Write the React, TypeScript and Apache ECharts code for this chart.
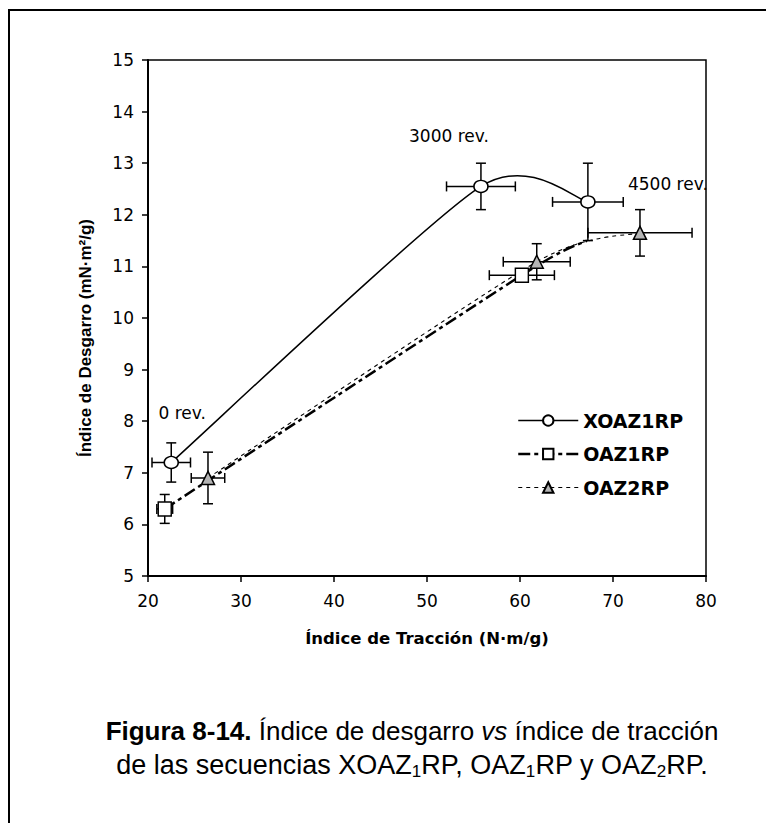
import React, { useEffect, useRef } from "react";
import * as echarts from "echarts";

// ---- data ----
const xoazX = [22.5, 55.8, 67.3];
const xoazY = [7.2, 12.55, 12.25];
const xoazXErr = [2.07, 3.7, 3.8];
const xoazYErr = [0.38, 0.45, 0.75];
const revLabels = ["0 rev.", "3000 rev.", "4500 rev."];

const oaz1X = [21.8, 60.2, 67.2];
const oaz1Y = [6.3, 10.83, 11.5];
const oaz1XErr = [0.85, 3.5, 0];
const oaz1YErr = [0.28, 0.12, 0];
const oaz1Visible = [true, true, false];

const oaz2X = [26.45, 61.8, 72.9];
const oaz2Y = [6.9, 11.09, 11.65];
const oaz2XErr = [1.8, 3.6, 5.6];
const oaz2YErr = [0.5, 0.35, 0.45];

const seriesNames = ["XOAZ1RP", "OAZ1RP", "OAZ2RP"];
const xTitle = "Índice de Tracción (N·m/g)";
const yTitle = "Índice de Desgarro (mN·m²/g)";

const FONT = "Liberation Sans";
const WIDE = "DejaVu Sans";
const TENSION = 1 / 8.5;

const styles = [
  { color: "#000", width: 1.5, type: "solid" as any, dash: null as any },
  { color: "#000", width: 2.5, type: [12, 4, 4, 4], dash: [12, 4, 4, 4] },
  { color: "#000", width: 1.1, type: [4, 4], dash: [4, 4] },
];

function curveSeries(xs: number[], ys: number[], st: any) {
  return {
    type: "custom",
    z: 2,
    silent: true,
    data: xs.map((x, i) => [x, ys[i]]),
    encode: { x: 0, y: 1 },
    renderItem: (params: any, api: any) => {
      const i = params.dataIndex;
      const n = xs.length;
      if (i >= n - 1) return null;
      const P = (k: number) => {
        const kk = Math.max(0, Math.min(n - 1, k));
        return api.coord([xs[kk], ys[kk]]);
      };
      const p0 = P(i - 1);
      const p1 = P(i);
      const p2 = P(i + 1);
      const p3 = P(i + 2);
      const c1x = p1[0] + (p2[0] - p0[0]) * TENSION;
      const c1y = p1[1] + (p2[1] - p0[1]) * TENSION;
      const c2x = p2[0] - (p3[0] - p1[0]) * TENSION;
      const c2y = p2[1] - (p3[1] - p1[1]) * TENSION;
      return {
        type: "bezierCurve",
        shape: { x1: p1[0], y1: p1[1], x2: p2[0], y2: p2[1], cpx1: c1x, cpy1: c1y, cpx2: c2x, cpy2: c2y },
        style: { stroke: st.color, lineWidth: st.width, lineDash: st.dash, fill: null },
      };
    },
  };
}

export default function App() {
  const ref = useRef<HTMLDivElement>(null);
  useEffect(() => {
    if (!ref.current) return;
    const chart = echarts.init(ref.current, null, { renderer: "svg" });

    const errData: number[][] = [];
    const pushErr = (xs: number[], ys: number[], ex: number[], ey: number[]) => {
      xs.forEach((x, i) => {
        if (ex[i] > 0 || ey[i] > 0) errData.push([x, ys[i], ex[i], ey[i]]);
      });
    };
    pushErr(xoazX, xoazY, xoazXErr, xoazYErr);
    pushErr(oaz1X, oaz1Y, oaz1XErr, oaz1YErr);
    pushErr(oaz2X, oaz2Y, oaz2XErr, oaz2YErr);

    const labelOffsets = [
      [11, -49],
      [-32, -50],
      [80, -18],
    ];

    const hiddenLine = { width: 0, opacity: 0 };
    const legendLine = (k: number) => ({
      color: styles[k].color,
      width: styles[k].width,
      type: styles[k].type,
      opacity: 1,
    });

    const option: any = {
      animation: false,
      backgroundColor: "#fff",
      grid: {
        left: 148,
        right: 60,
        top: 60,
        bottom: 247,
        show: true,
        borderColor: "#000",
        borderWidth: 1.5,
      },
      legend: {
        orient: "vertical",
        left: 517,
        top: 411,
        padding: 0,
        itemWidth: 60,
        itemHeight: 13,
        itemGap: 14.5,
        data: seriesNames.map((nm, k) => ({ name: nm, lineStyle: legendLine(k) })),
        textStyle: { fontFamily: WIDE, fontWeight: "bold", fontSize: 19, color: "#000" },
      },
      xAxis: {
        type: "value",
        min: 20,
        max: 80,
        interval: 10,
        splitLine: { show: false },
        axisLine: { lineStyle: { color: "#000", width: 2 } },
        axisTick: { length: 6, lineStyle: { color: "#000", width: 1.5 } },
        axisLabel: { color: "#000", fontSize: 17, fontFamily: WIDE, margin: 16 },
        name: xTitle,
        nameLocation: "middle",
        nameGap: 54,
        nameTextStyle: { fontFamily: WIDE, fontWeight: "bold", fontSize: 16.5, color: "#000" },
      },
      yAxis: {
        type: "value",
        min: 5,
        max: 15,
        interval: 1,
        splitLine: { show: false },
        axisLine: { lineStyle: { color: "#000", width: 2 } },
        axisTick: { length: 6, lineStyle: { color: "#000", width: 1.5 } },
        axisLabel: { color: "#000", fontSize: 17, fontFamily: WIDE, margin: 14 },
        name: yTitle,
        nameLocation: "middle",
        nameGap: 54,
        nameTextStyle: {
          fontFamily: FONT,
          fontWeight: "bold",
          fontSize: 17,
          color: "#000",
          padding: [0, 40, 0, 0],
        },
      },
      series: [
        {
          type: "custom",
          name: "errors",
          z: 1,
          silent: true,
          data: errData,
          encode: { x: 0, y: 1 },
          renderItem: (_p: any, api: any) => {
            const x = api.value(0);
            const y = api.value(1);
            const ex = api.value(2);
            const ey = api.value(3);
            const cap = 5;
            const st = { stroke: "#000", lineWidth: 1.5 };
            const children: any[] = [];
            if (ex > 0) {
              const l = api.coord([x - ex, y]);
              const r = api.coord([x + ex, y]);
              children.push({ type: "line", shape: { x1: l[0], y1: l[1], x2: r[0], y2: r[1] }, style: st });
              children.push({ type: "line", shape: { x1: l[0], y1: l[1] - cap, x2: l[0], y2: l[1] + cap }, style: st });
              children.push({ type: "line", shape: { x1: r[0], y1: r[1] - cap, x2: r[0], y2: r[1] + cap }, style: st });
            }
            if (ey > 0) {
              const t = api.coord([x, y + ey]);
              const b = api.coord([x, y - ey]);
              children.push({ type: "line", shape: { x1: t[0], y1: t[1], x2: b[0], y2: b[1] }, style: st });
              children.push({ type: "line", shape: { x1: t[0] - cap, y1: t[1], x2: t[0] + cap, y2: t[1] }, style: st });
              children.push({ type: "line", shape: { x1: b[0] - cap, y1: b[1], x2: b[0] + cap, y2: b[1] }, style: st });
            }
            return { type: "group", children };
          },
        },
        curveSeries(xoazX, xoazY, styles[0]),
        curveSeries(oaz1X, oaz1Y, styles[1]),
        curveSeries(oaz2X, oaz2Y, styles[2]),
        {
          type: "line",
          name: seriesNames[0],
          z: 4,
          symbol: "circle",
          symbolSize: [14, 12],
          lineStyle: hiddenLine,
          itemStyle: { color: "#fff", borderColor: "#000", borderWidth: 1.5 },
          data: xoazX.map((x, i) => ({
            value: [x, xoazY[i]],
            label: {
              show: true,
              position: "inside",
              formatter: revLabels[i],
              offset: labelOffsets[i],
              color: "#000",
              fontSize: 17,
              fontFamily: WIDE,
            },
          })),
        },
        {
          type: "line",
          name: seriesNames[1],
          z: 4,
          symbol: "rect",
          symbolSize: [13, 14],
          lineStyle: hiddenLine,
          itemStyle: { color: "#fff", borderColor: "#000", borderWidth: 1.5 },
          data: oaz1X.map((x, i) => ({
            value: [x, oaz1Y[i]],
            symbol: oaz1Visible[i] ? "rect" : "none",
          })),
        },
        {
          type: "line",
          name: seriesNames[2],
          z: 4,
          symbol: "triangle",
          symbolSize: [13, 13],
          lineStyle: hiddenLine,
          itemStyle: { color: "#b4b4b4", borderColor: "#000", borderWidth: 1.5 },
          data: oaz2X.map((x, i) => [x, oaz2Y[i]]),
        },
      ],
      graphic: [
        {
          type: "rect",
          silent: true,
          z: -10,
          shape: { x: 9, y: 10, width: 900, height: 900 },
          style: { fill: "none", stroke: "#000", lineWidth: 2 },
        },
        {
          type: "text",
          x: 412,
          y: 716,
          style: {
            text: "{b|Figura 8-14.}{n| Índice de desgarro }{i|vs}{n| índice de tracción}",
            textAlign: "center",
            fill: "#000",
            rich: {
              b: { fontFamily: FONT, fontSize: 26, fontWeight: "bold", lineHeight: 30 },
              n: { fontFamily: FONT, fontSize: 26, lineHeight: 30 },
              i: { fontFamily: FONT, fontSize: 26, fontStyle: "italic", lineHeight: 30 },
            },
          },
        },
        {
          type: "text",
          x: 412,
          y: 750,
          style: {
            text: "{n|de las secuencias XOAZ}{s|1}{n|RP, OAZ}{s|1}{n|RP y OAZ}{s|2}{n|RP.}",
            textAlign: "center",
            fill: "#000",
            rich: {
              n: { fontFamily: FONT, fontSize: 27, lineHeight: 30 },
              s: { fontFamily: FONT, fontSize: 17, lineHeight: 14, verticalAlign: "bottom" },
            },
          },
        },
      ],
    };
    chart.setOption(option);
    return () => chart.dispose();
  }, []);
  return (
    <div
      ref={ref}
      style={{ position: "fixed", left: 0, top: 0, width: 766, height: 823 }}
    />
  );
}
